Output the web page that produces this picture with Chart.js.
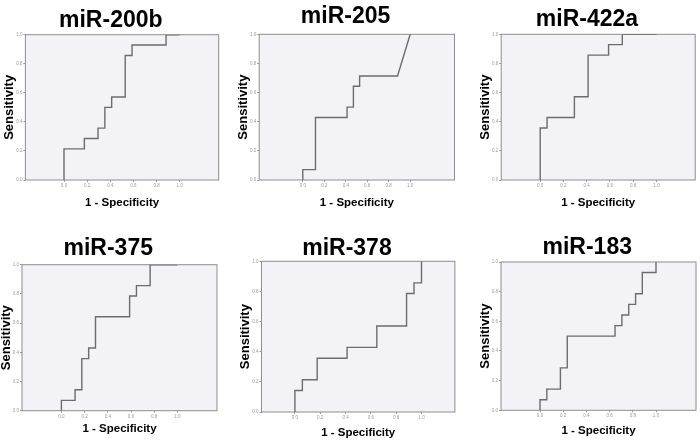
<!DOCTYPE html>
<html>
<head>
<meta charset="utf-8">
<script src="https://cdn.jsdelivr.net/npm/chart.js@4.4.1/dist/chart.umd.min.js"></script>
<style>
body { margin: 0; background: #fff; width: 700px; height: 444px; overflow: hidden; position: relative; }
canvas { position: absolute; }
</style>
</head>
<body>
<script>
// ROC curves, one per miRNA (vertices of the step curve)
var names = ['miR-200b', 'miR-205', 'miR-422a', 'miR-375', 'miR-378', 'miR-183'];

var fpr200b = [0, 0, .176, .176, .294, .294, .353, .353, .412, .412, .529, .529, .588, .588, .882, .882, 1];
var tpr200b = [0, .214, .214, .286, .286, .357, .357, .5, .5, .571, .571, .857, .857, .929, .929, 1, 1];

var fpr205 = [0, 0, .118, .118, .412, .412, .471, .471, .529, .529, .882, 1];
var tpr205 = [0, .071, .071, .429, .429, .5, .5, .643, .643, .714, .714, 1];

var fpr422a = [0, 0, .059, .059, .294, .294, .412, .412, .588, .588, .706, .706, 1];
var tpr422a = [0, .357, .357, .429, .429, .571, .571, .857, .857, .929, .929, 1, 1];

var fpr375 = [0, 0, .118, .118, .176, .176, .235, .235, .294, .294, .588, .588, .647, .647, .765, .765, 1];
var tpr375 = [0, .071, .071, .143, .143, .357, .357, .429, .429, .643, .643, .786, .786, .857, .857, 1, 1];

var fpr378 = [0, 0, .059, .059, .176, .176, .412, .412, .647, .647, .882, .882, .941, .941, 1, 1];
var tpr378 = [0, .143, .143, .214, .214, .357, .357, .429, .429, .571, .571, .786, .786, .857, .857, 1];

var fpr183 = [0, 0, .059, .059, .176, .176, .235, .235, .647, .647, .706, .706, .765, .765, .824, .824, .882, .882, 1, 1];
var tpr183 = [0, .071, .071, .143, .143, .286, .286, .5, .5, .571, .571, .643, .643, .714, .714, .786, .786, .929, .929, 1];

var fprs = [fpr200b, fpr205, fpr422a, fpr375, fpr378, fpr183];
var tprs = [tpr200b, tpr205, tpr422a, tpr375, tpr378, tpr183];

var tickValues = [0, 0.2, 0.4, 0.6, 0.8, 1.0];
var xLabel = '1 - Specificity';
var yLabel = 'Sensitivity';

// page layout of each panel (px)
var rowTop = [0, 0, 0, 222, 222, 222];
var boxL = [25.7, 258.7, 501, 22.3, 261.3, 501];
var boxR = [219, 454, 695, 217.3, 454.7, 696];
var boxT = [34.7, 34.3, 34.3, 264.7, 261.3, 262];
var boxB = [180, 180, 180, 410.7, 412, 410.3];
var zeroX = [64.3, 302.3, 540, 61.7, 294.7, 540];
var oneX = [180, 409.7, 656.3, 177.7, 421.3, 656];
var titleX = [109.3, 343.5, 584.8, 106.3, 344.8, 585];
var titleBase = [28.3, 25, 27.7, 257, 257, 255.3];
var xTitleGap = [22.5, 23, 22.5, 18, 20.5, 20.5];

var boxPlugin = {
    id: 'box',
    beforeDraw: function(chart){
        var a = chart.chartArea, ctx = chart.ctx;
        ctx.save();
        ctx.fillStyle = '#f3f3f7';
        ctx.fillRect(a.left, a.top, a.right - a.left, a.bottom - a.top);
        ctx.strokeStyle = '#8e8e8e';
        ctx.lineWidth = 1;
        ctx.strokeRect(a.left, a.top, a.right - a.left, a.bottom - a.top);
        ctx.restore();
    }
};

function setTicks(scale){
    scale.ticks = tickValues.map(function(v){ return {value: v}; });
}

function makePanel(i){
    var W = 250, H = 222;
    var titleSize = 23;
    var yW = 22.5;
    var xH = xTitleGap[i] + 5.75;
    var left = titleX[i] - W / 2;
    var top = rowTop[i];
    var mid = titleBase[i] - 0.3465 * titleSize;

    var cv = document.createElement('canvas');
    cv.width = W;
    cv.height = H;
    cv.style.left = left + 'px';
    cv.style.top = top + 'px';
    document.body.appendChild(cv);

    var unit = oneX[i] - zeroX[i];
    var pts = fprs[i].map(function(x, j){ return {x: x, y: tprs[i][j]}; });

    new Chart(cv, {
        type: 'scatter',
        data: {
            datasets: [{
                data: pts,
                showLine: true,
                borderColor: '#6c6c6c',
                borderWidth: 1.4,
                pointRadius: 0,
                tension: 0
            }]
        },
        options: {
            responsive: false,
            animation: false,
            layout: {
                padding: {
                    left: (boxL[i] - left) - yW,
                    right: W - (boxR[i] - left),
                    top: 0,
                    bottom: (top + H) - boxB[i] - xH
                }
            },
            plugins: {
                legend: { display: false },
                tooltip: { enabled: false },
                title: {
                    display: true,
                    text: names[i],
                    color: '#000',
                    font: { family: 'Liberation Sans', weight: 'bold', size: titleSize, lineHeight: 1 },
                    padding: { top: mid - top - titleSize / 2, bottom: boxT[i] - mid - titleSize / 2 }
                }
            },
            scales: {
                x: {
                    type: 'linear',
                    min: (boxL[i] - zeroX[i]) / unit,
                    max: (boxR[i] - zeroX[i]) / unit,
                    afterBuildTicks: setTicks,
                    afterFit: function(scale){ scale.height = xH; },
                    border: { display: false },
                    grid: { drawOnChartArea: false, drawTicks: true, tickLength: 2, color: '#999' },
                    ticks: {
                        autoSkip: false, maxRotation: 0, padding: 1,
                        color: '#9a9a9a',
                        font: { family: 'Liberation Sans', size: 4.5 },
                        callback: function(v){ return v.toFixed(1); }
                    },
                    title: {
                        display: true,
                        text: xLabel,
                        color: '#000',
                        padding: 0,
                        font: { family: 'Liberation Sans', weight: 'bold', size: 11.5, lineHeight: 1 }
                    }
                },
                y: {
                    type: 'linear',
                    min: 0,
                    max: 1,
                    afterBuildTicks: setTicks,
                    afterFit: function(scale){ scale.width = yW; },
                    border: { display: false },
                    grid: { drawOnChartArea: false, drawTicks: true, tickLength: 2, color: '#999' },
                    ticks: {
                        padding: 1,
                        color: '#9a9a9a',
                        font: { family: 'Liberation Sans', size: 4.5 },
                        callback: function(v){ return v.toFixed(1); }
                    },
                    title: {
                        display: true,
                        text: yLabel,
                        color: '#000',
                        padding: 0,
                        font: { family: 'Liberation Sans', weight: 'bold', size: 13, lineHeight: 1 }
                    }
                }
            }
        },
        plugins: [boxPlugin]
    });
}

for (var i = 0; i < names.length; i++) {
    makePanel(i);
}
</script>
</body>
</html>
